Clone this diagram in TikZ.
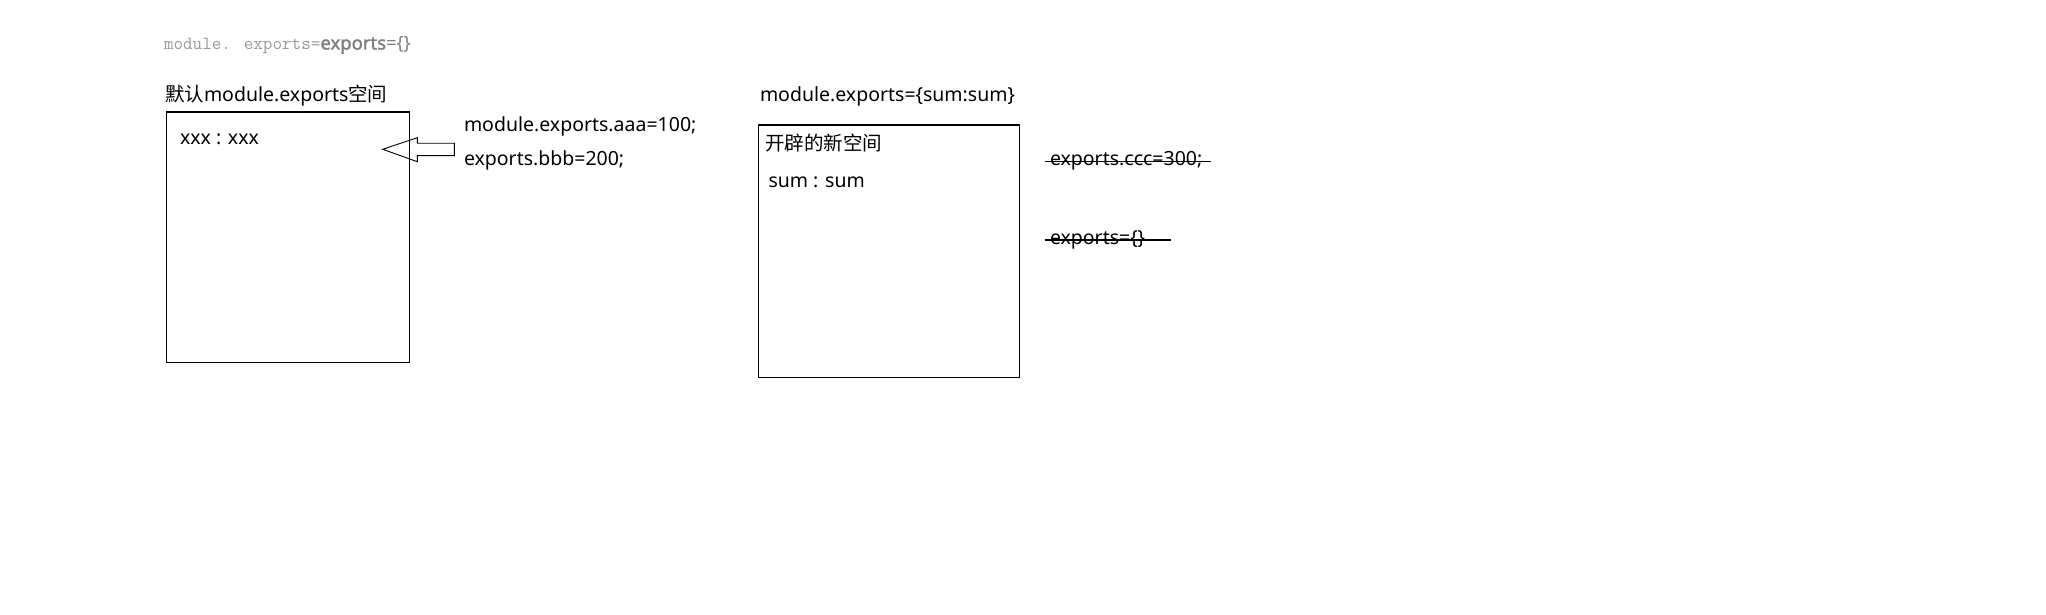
\documentclass[tikz,border=0pt]{standalone}
\usepackage{fontspec}
\setmainfont{Noto Sans}
\newfontfamily\cjk{Noto Sans CJK SC}
\newfontfamily\bsans{Noto Sans}[FakeBold=1.6]
\definecolor{lightg}{HTML}{9A9A9A}
\definecolor{darkg}{HTML}{7F7F7F}
\begin{document}
\begin{tikzpicture}[x=1pt,y=-1pt,
  txt/.style={anchor=base west,inner sep=0pt,outer sep=0pt,font=\fontsize{19.5}{23}\selectfont},
  box/.style={draw=black,line width=1.2pt,anchor=north west,inner sep=0pt},
  strike/.style={draw=black,line width=1.3pt}]
\useasboundingbox[fill=white] (0,0) rectangle (2046,615);
% top caption
\node[txt,anchor=base west] (cap) at (164,49.5) {{\ttfamily\fontsize{18.6}{21}\selectfont\color{lightg}module. exports=}{\color{darkg}{\bsans\fontsize{18.5}{21}\selectfont exports}{\fontsize{18.5}{21}\selectfont=\{\}}}};
% left part
\node[txt] (h1) at (165,101.7) {{\cjk 默认}module.exports{\cjk 空间}};
\node[box,minimum width=243pt,minimum height=250.5pt] (b1) at (166,111.5) {};
\node[txt] (x1) at (180,145) {xxx : xxx};
\node[txt] (aaa) at (464,131.7) {module.exports.aaa=100;};
\node[txt] (bbb) at (464,165) {exports.bbb=200;};
\draw[line width=0.9pt,line join=miter] (382.7,149.3) -- (417.3,137.7) -- (417.3,143.3) -- (454.3,143.3) -- (454.3,155.7) -- (417.3,155.7) -- (417.3,161.7) -- cycle;
% right part
\node[txt] (h2) at (760,101.7) {module.exports=\{sum:sum\}};
\node[box,minimum width=261.5pt,minimum height=252pt] (b2) at (757.5,124.5) {};
\node[txt] (t2) at (765,150) {\cjk 开辟的新空间};
\node[txt] (s2) at (768.5,187) {sum : sum};
\node[txt] (ccc) at (1050,166) {exports.ccc=300;};
\node[txt] (eq) at (1050,244.5) {exports=\{\}};
\coordinate (c1) at (1044.6,161.5);
\coordinate (c2) at (1211,161.5);
\coordinate (e1) at (1044.6,240);
\coordinate (e2) at (1170.8,240);
\draw[strike] (c1) -- (c2);
\draw[strike] (e1) -- (e2);
\end{tikzpicture}
\end{document}
